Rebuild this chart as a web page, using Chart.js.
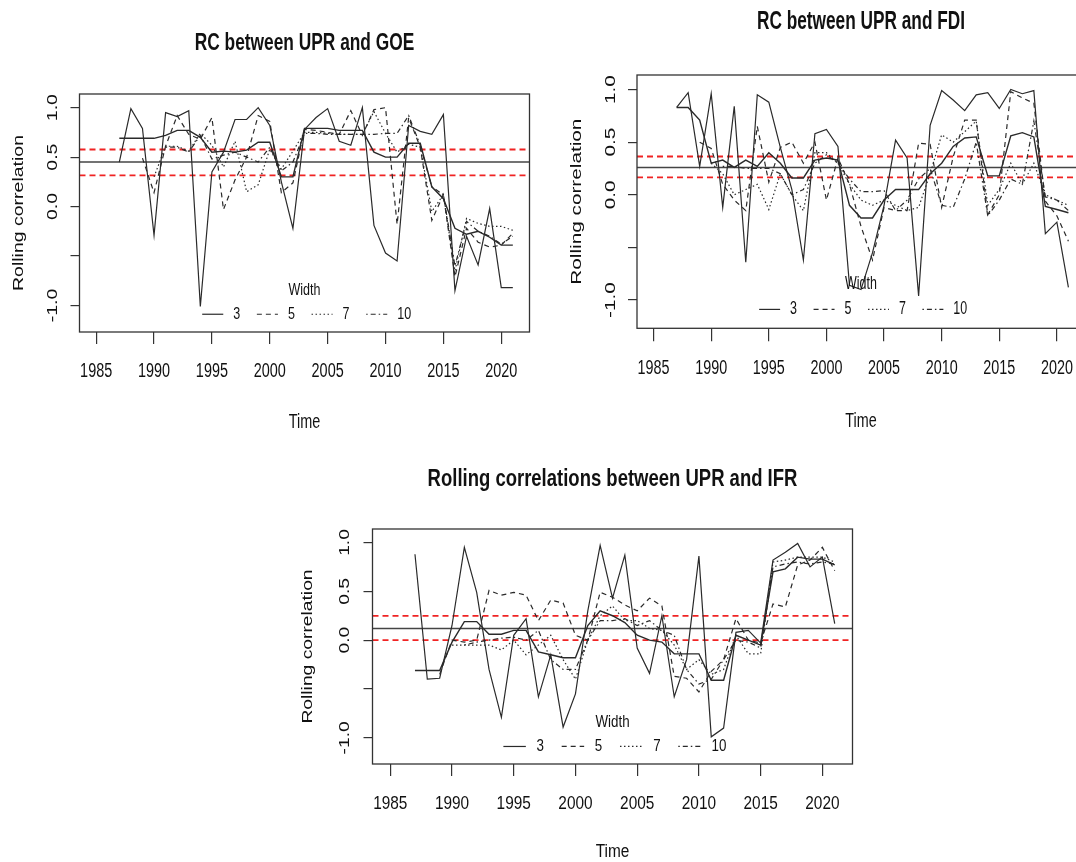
<!DOCTYPE html>
<html>
<head>
<meta charset="utf-8">
<script src="https://cdn.jsdelivr.net/npm/chart.js@4.4.0/dist/chart.umd.min.js"></script>
<style>
  html, body { margin: 0; padding: 0; background: #fff; width: 1076px; height: 862px; overflow: hidden; position: relative; }
  .panel { position: absolute; }
</style>
</head>
<body>
<div class="panel" style="left:0;top:0;width:560px;height:440px"><canvas id="c1"></canvas></div>
<div class="panel" style="left:560px;top:0;width:540px;height:440px"><canvas id="c2"></canvas></div>
<div class="panel" style="left:280px;top:450px;width:600px;height:412px"><canvas id="c3"></canvas></div>
<script>
// ---- data ----
const years = [1987,1988,1989,1990,1991,1992,1993,1994,1995,1996,1997,1998,1999,2000,2001,2002,2003,2004,2005,2006,2007,2008,2009,2010,2011,2012,2013,2014,2015,2016,2017,2018,2019,2020,2021];
const xTicks = [1985, 1990, 1995, 2000, 2005, 2010, 2015, 2020];
const yTicks = [-1, -0.5, 0, 0.5, 1];
const yTickText = ['-1.0', '', '0.0', '0.5', '1.0'];
const widthNames = ['3', '5', '7', '10'];
const legendTitle = 'Width';

// UPR vs GOE
const goeW3  = [0.45,0.99,0.79,-0.29,0.95,0.91,0.97,-1.01,0.35,0.55,0.88,0.88,1.0,0.82,0.25,-0.22,0.78,0.9,0.99,0.66,0.62,1.0,-0.19,-0.47,-0.55,0.82,0.76,0.73,0.93,-0.85,-0.3,-0.59,-0.02,-0.82,-0.82];
const goeW5  = [null,null,0.49,0.14,0.61,0.92,0.73,0.68,0.9,-0.03,0.27,0.5,0.92,0.86,0.14,0.24,0.78,0.77,0.75,0.73,0.97,0.72,0.98,1.0,-0.18,0.9,0.6,-0.14,0.12,-0.71,-0.22,-0.36,-0.41,-0.39,-0.27];
const goeW7  = [null,null,null,0.3,0.61,0.61,0.56,0.74,0.62,0.4,0.66,0.15,0.22,0.58,0.38,0.56,0.75,0.75,0.74,0.73,0.73,0.73,0.96,0.74,0.55,0.63,0.6,-0.05,0.12,-0.65,-0.12,-0.17,-0.2,-0.2,-0.24];
const goeW10 = [null,null,null,null,0.6,0.6,0.55,0.72,0.48,0.52,0.55,0.5,0.45,0.6,0.36,0.45,0.74,0.74,0.73,0.73,0.73,0.73,0.73,0.74,0.74,0.92,0.62,0.2,0.12,-0.6,-0.15,-0.25,-0.3,-0.38,-0.3];
const goeExtra = [0.69,0.69,0.69,0.69,0.72,0.77,0.77,0.7,0.55,0.56,0.55,0.57,0.65,0.65,0.3,0.3,0.79,0.79,0.79,0.77,0.77,0.77,0.55,0.5,0.5,0.64,0.64,0.2,0.08,-0.22,-0.28,-0.25,-0.31,-0.39,-0.39];
const goeRefs = [0.451, 0.577, 0.315];

// UPR vs FDI
const fdiW3  = [0.83,0.97,0.27,0.96,-0.12,0.84,-0.64,0.95,0.88,0.45,0.05,-0.62,0.58,0.62,0.46,-0.86,-0.9,-0.55,-0.1,0.52,0.35,-0.96,0.66,0.99,0.9,0.8,0.95,0.97,0.82,1.0,0.96,0.99,-0.37,-0.26,-0.88];
const fdiW5  = [null,null,0.5,0.44,0.1,-0.05,-0.15,0.65,0.12,0.45,0.5,0.3,0.5,-0.05,0.35,0.1,-0.3,-0.62,-0.12,-0.15,-0.15,0.49,0.48,-0.12,0.36,0.71,0.71,-0.19,0.0,0.98,0.92,0.87,-0.06,-0.2,-0.44];
const fdiW7  = [null,null,null,0.3,0.2,0.0,0.05,0.1,-0.14,0.2,0.0,-0.15,0.4,0.4,0.3,0.1,-0.05,-0.1,-0.05,-0.1,-0.15,-0.12,0.2,0.57,0.5,0.6,0.7,-0.1,0.05,0.3,0.1,0.3,0.0,-0.05,-0.1];
const fdiW10 = [null,null,null,null,0.27,0.27,0.25,0.25,0.25,0.2,0.0,0.05,0.3,0.38,0.3,0.15,0.03,0.03,0.04,-0.15,-0.05,0.15,0.25,-0.1,-0.12,0.15,0.5,-0.2,-0.05,0.15,0.1,0.7,-0.02,-0.05,-0.15];
const fdiExtra = [0.83,0.83,0.71,0.3,0.33,0.26,0.33,0.27,0.4,0.3,0.16,0.16,0.33,0.35,0.33,-0.1,-0.22,-0.22,-0.05,0.05,0.05,0.05,0.2,0.3,0.46,0.54,0.55,0.18,0.18,0.56,0.59,0.55,-0.11,-0.14,-0.17];
const fdiRefs = [0.26, 0.364, 0.166];

// UPR vs IFR
const ifrW3  = [0.88,-0.4,-0.39,0.15,0.95,0.49,-0.3,-0.79,0.05,0.22,-0.58,-0.15,-0.89,-0.55,0.3,0.97,0.43,0.87,-0.08,-0.34,0.25,-0.58,-0.2,0.86,-0.99,-0.9,0.08,0.1,-0.03,0.82,0.9,0.99,0.75,0.85,0.17];
const ifrW5  = [null,null,-0.35,0.0,-0.02,0.0,0.51,0.46,0.49,0.46,0.2,0.41,0.38,0.05,0.0,0.49,0.44,0.36,0.3,0.43,0.35,-0.37,-0.39,-0.53,-0.32,-0.2,0.22,0.0,-0.03,0.37,0.34,0.77,0.82,0.95,0.71];
const ifrW7  = [null,null,null,-0.05,-0.05,-0.05,-0.05,-0.1,0.0,-0.15,-0.05,0.05,-0.2,-0.4,0.0,0.25,0.35,0.2,0.2,0.12,0.1,-0.05,-0.3,-0.2,-0.35,-0.3,0.05,-0.14,-0.14,0.8,0.82,0.85,0.85,0.85,0.8];
const ifrW10 = [null,null,null,null,-0.05,-0.02,0.0,0.02,0.03,0.0,0.1,-0.2,-0.3,-0.3,0.0,0.2,0.2,0.22,0.15,0.2,0.1,0.05,-0.3,-0.45,-0.4,-0.2,0.0,-0.02,-0.08,0.75,0.78,0.8,0.78,0.8,0.78];
const ifrExtra = [-0.31,-0.31,-0.31,-0.02,0.19,0.19,0.06,0.06,0.1,0.1,-0.12,-0.15,-0.18,-0.18,0.15,0.3,0.25,0.18,0.05,0.0,-0.02,-0.14,-0.14,-0.14,-0.41,-0.41,0.05,0.0,-0.05,0.7,0.73,0.85,0.83,0.83,0.77];
const ifrRefs = [0.12, 0.248, 0.0];

// ---- styling ----
const xMin = 1983.56, xMax = 2022.44;
const yMin = -1.268, yMax = 1.138;
const lineColor = '#2a2a2a';
const dashes = [[], [5, 4], [1.5, 2.5], [1.5, 3, 5, 3]];
const FONT = '"Liberation Sans", Arial, sans-serif';

// draws the R-like box, titles, tick labels and legend (text stretched like the source image)
const rText = {
  id: 'rText',
  afterDraw(chart, args, o) {
    const { ctx, chartArea: ca, scales } = chart;
    const xs = scales.x, ys = scales.y;
    const kx = (ca.right - ca.left) / (xs.max - xs.min) / 11.54;
    const ry = (ca.bottom - ca.top) / (ys.max - ys.min) / 105.85;
    const ky = 1.45 * ry;
    const put = (txt, x, y, size, opt = {}) => {
      ctx.save();
      ctx.translate(x, y);
      ctx.scale(kx, ky);
      if (opt.rot) ctx.rotate(-Math.PI / 2);
      ctx.font = (opt.bold ? 'bold ' : '') + size + 'px ' + FONT;
      ctx.fillStyle = '#111';
      ctx.textAlign = opt.align || 'center';
      ctx.textBaseline = 'middle';
      ctx.fillText(txt, 0, 0);
      ctx.restore();
    };
    ctx.save();
    ctx.strokeStyle = '#333';
    ctx.lineWidth = 1.3;
    ctx.strokeRect(ca.left, ca.top, ca.right - ca.left, ca.bottom - ca.top);
    ctx.restore();

    const xc = (ca.left + ca.right) / 2;
    put(o.title, xc, o.titleY, 17.3, { bold: true });
    xTicks.forEach(v => put(String(v), xs.getPixelForValue(v), o.tickY, 14.4));
    yTicks.forEach((v, i) => {
      if (yTickText[i]) put(yTickText[i], ca.left - 26.3 * kx, ys.getPixelForValue(v), 14.4, { rot: true });
    });
    put('Time', xc, o.timeY, 14.4);
    put('Rolling correlation', ca.left - 60.3 * kx, (ca.top + ca.bottom) / 2, 14.4, { rot: true });

    // legend, no frame
    put(legendTitle, xc, ca.bottom - 45 * ry, 12.5);
    const yy = ca.bottom - 19 * ry;
    widthNames.forEach((name, i) => {
      const x0 = xc + (-102 + i * 54.5) * kx;
      ctx.save();
      ctx.strokeStyle = lineColor;
      ctx.lineWidth = 1.2;
      ctx.setLineDash(dashes[i]);
      ctx.beginPath();
      ctx.moveTo(x0, yy);
      ctx.lineTo(x0 + 21 * kx, yy);
      ctx.stroke();
      ctx.restore();
      put(name, x0 + 31 * kx, yy, 12.5, { align: 'left' });
    });
  }
};

function series(vals) {
  return years.map((yr, i) => ({ x: yr, y: vals[i] }));
}

function makePanel(id, opts, w3, w5, w7, w10, extra, refs) {
  const ds = [w3, w5, w7, w10].map((vals, i) => ({
    data: series(vals),
    borderColor: lineColor,
    borderWidth: 1.2,
    borderDash: dashes[i]
  }));
  ds.push({ data: series(extra), borderColor: lineColor, borderWidth: 1.4, borderDash: [] });
  ds.push({ data: [{ x: xMin, y: refs[0] }, { x: xMax, y: refs[0] }], borderColor: '#444', borderWidth: 1.6 });
  ds.push({ data: [{ x: xMin, y: refs[1] }, { x: xMax, y: refs[1] }], borderColor: 'rgb(240,35,35)', borderWidth: 1.8, borderDash: [6, 4] });
  ds.push({ data: [{ x: xMin, y: refs[2] }, { x: xMax, y: refs[2] }], borderColor: 'rgb(240,35,35)', borderWidth: 1.8, borderDash: [6, 4] });

  return new Chart(document.getElementById(id), {
    type: 'line',
    data: { datasets: ds },
    options: {
      responsive: true,
      maintainAspectRatio: false,
      animation: false,
      devicePixelRatio: 1,
      layout: { padding: opts.padding },
      elements: { point: { radius: 0 }, line: { tension: 0, fill: false } },
      plugins: {
        legend: { display: false },
        title: { display: false },
        tooltip: { enabled: false },
        rText: opts.text
      },
      scales: {
        x: {
          type: 'linear', min: xMin, max: xMax,
          afterBuildTicks: s => { s.ticks = xTicks.map(v => ({ value: v })); },
          afterFit: s => { s.height = opts.xTick; },
          ticks: { display: false },
          grid: { drawOnChartArea: false, drawTicks: true, tickLength: opts.xTick, color: '#333', lineWidth: 1.2 },
          border: { display: false }
        },
        y: {
          type: 'linear', min: yMin, max: yMax,
          afterBuildTicks: s => { s.ticks = yTicks.map(v => ({ value: v })); },
          afterFit: s => { s.width = 9; },
          ticks: { display: false },
          grid: { drawOnChartArea: false, drawTicks: true, tickLength: 9, color: '#333', lineWidth: 1.2 },
          border: { display: false }
        }
      }
    },
    plugins: [rText]
  });
}

makePanel('c1', {
  padding: { left: 70.5, top: 94, right: 30.5, bottom: 96 },
  xTick: 12,
  text: { title: 'RC between UPR and GOE', titleY: 44, tickY: 372, timeY: 423 }
}, goeW3, goeW5, goeW7, goeW10, goeExtra, goeRefs);

makePanel('c2', {
  padding: { left: 68, top: 75, right: 15, bottom: 98.7 },
  xTick: 13,
  text: { title: 'RC between UPR and FDI', titleY: 22.5, tickY: 368, timeY: 421 }
}, fdiW3, fdiW5, fdiW7, fdiW10, fdiExtra, fdiRefs);

makePanel('c3', {
  padding: { left: 83.5, top: 79, right: 27.5, bottom: 86 },
  xTick: 12,
  text: { title: 'Rolling correlations between UPR and IFR', titleY: 30, tickY: 354, timeY: 402 }
}, ifrW3, ifrW5, ifrW7, ifrW10, ifrExtra, ifrRefs);
</script>
</body>
</html>
